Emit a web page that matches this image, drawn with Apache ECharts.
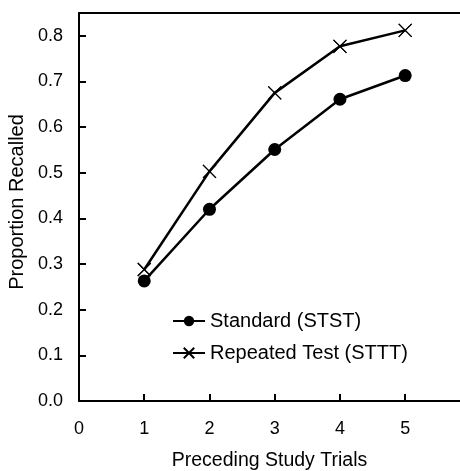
<!DOCTYPE html>
<html>
<head>
<meta charset="utf-8">
<script src="https://cdn.jsdelivr.net/npm/echarts@6/dist/echarts.min.js"></script>
<style>
  html, body { margin: 0; padding: 0; background: #fff; }
  #chart { width: 460px; height: 471px; }
</style>
</head>
<body>
<div id="chart"></div>
<script>
// data
var trials = [1, 2, 3, 4, 5];
var standard = [0.263, 0.420, 0.551, 0.661, 0.713];
var repeated = [0.288, 0.503, 0.675, 0.777, 0.812];
var xTicks = [0, 1, 2, 3, 4, 5];
var yTicks = [0, 0.1, 0.2, 0.3, 0.4, 0.5, 0.6, 0.7, 0.8];

var FONT = '"Liberation Sans", Arial, sans-serif';
var CROSS = 'path://M0,0L10,10M10,0L0,10';

function pairs(xs, ys) {
    return xs.map(function (x, i) { return [x, ys[i]]; });
}

var chart = echarts.init(document.getElementById('chart'));

var option = {
    animation: false,
    grid: { left: 79, top: 13, right: 0, bottom: 70, outerBoundsMode: 'none' },
    legend: {
        data: ['Standard (STST)', 'Repeated Test (STTT)'],
        orient: 'vertical',
        left: 172,
        top: 311,
        padding: 0,
        itemWidth: 32,
        itemHeight: 13,
        itemGap: 12,
        textStyle: { fontFamily: FONT, fontSize: 20, color: '#000' }
    },
    xAxis: [{
        type: 'value',
        min: 0,
        max: 5.84,
        interval: 1,
        name: 'Preceding Study Trials',
        nameLocation: 'middle',
        nameGap: 50,
        nameTextStyle: { fontFamily: FONT, fontSize: 19.5, color: '#000' },
        splitLine: { show: false },
        axisLine: { lineStyle: { color: '#000', width: 2 } },
        axisTick: { inside: true, length: 7, customValues: [1, 2, 3, 4, 5], lineStyle: { color: '#000', width: 2 } },
        axisLabel: { customValues: xTicks, margin: 19, fontFamily: FONT, fontSize: 18, color: '#000' }
    }, {
        type: 'value',
        position: 'top',
        min: 0,
        max: 5.84,
        splitLine: { show: false },
        axisLine: { show: true, lineStyle: { color: '#000', width: 2 } },
        axisTick: { show: false },
        axisLabel: { show: false }
    }],
    yAxis: {
        type: 'value',
        min: 0,
        max: 0.85,
        interval: 0.1,
        name: 'Proportion Recalled',
        nameLocation: 'middle',
        nameGap: 50,
        nameTextStyle: { fontFamily: FONT, fontSize: 20, color: '#000', padding: [0, 0, 0, 10] },
        splitLine: { show: false },
        axisLine: { show: true, lineStyle: { color: '#000', width: 2 } },
        axisTick: { inside: true, length: 7, customValues: yTicks.slice(1), lineStyle: { color: '#000', width: 2 } },
        axisLabel: {
            customValues: yTicks,
            margin: 16,
            fontFamily: FONT,
            fontSize: 18,
            color: '#000',
            formatter: function (v) { return v.toFixed(1); }
        }
    },
    series: [
        {
            name: 'Standard (STST)',
            type: 'line',
            data: pairs(trials, standard),
            symbol: 'circle',
            symbolSize: 13,
            lineStyle: { color: '#000', width: 2.5 },
            itemStyle: { color: '#000' }
        },
        {
            name: 'Repeated Test (STTT)',
            type: 'line',
            data: pairs(trials, repeated),
            symbol: CROSS,
            symbolSize: 13,
            lineStyle: { color: '#000', width: 2.5 },
            itemStyle: { color: '#000', borderColor: '#000', borderWidth: 1.2 }
        },
        {
            // white patches so the line stops short of each cross
            type: 'scatter',
            data: pairs(trials, repeated),
            symbol: 'circle',
            symbolSize: 11,
            itemStyle: { color: '#fff' },
            silent: true
        },
        {
            type: 'scatter',
            data: pairs(trials, repeated),
            symbol: CROSS,
            symbolSize: 13,
            itemStyle: { color: '#000', borderColor: '#000', borderWidth: 1.2 },
            silent: true
        }
    ]
};

chart.setOption(option);
</script>
</body>
</html>
